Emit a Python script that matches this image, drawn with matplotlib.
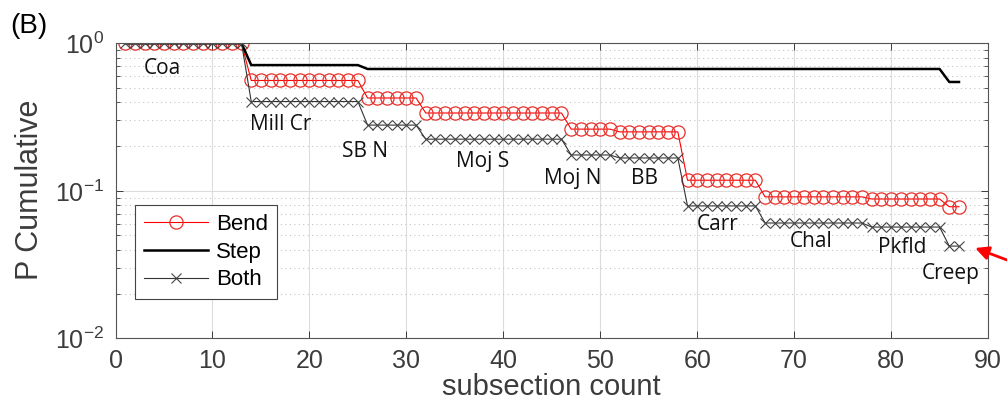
import matplotlib
matplotlib.use("Agg")
import matplotlib.pyplot as plt
from matplotlib.ticker import LogLocator, NullFormatter, MultipleLocator

plt.rcParams['font.family'] = ['Liberation Sans', 'DejaVu Sans']
plt.rcParams['mathtext.default'] = 'regular'

# subsection count (x) for each point
count = list(range(1, 88))

# cumulative probability per subsection
bend = [1.0, 1.0, 1.0, 1.0, 1.0, 1.0, 1.0, 1.0, 1.0, 1.0, 1.0, 1.0, 1.0,
        0.56, 0.56, 0.56, 0.56, 0.56, 0.56, 0.56, 0.56, 0.56, 0.56, 0.56, 0.56,
        0.426, 0.426, 0.426, 0.426, 0.426, 0.426,
        0.337, 0.337, 0.337, 0.337, 0.337, 0.337, 0.337, 0.337, 0.337, 0.337,
        0.337, 0.337, 0.337, 0.337, 0.337,
        0.262, 0.262, 0.262, 0.262, 0.262,
        0.251, 0.251, 0.251, 0.251, 0.251, 0.251, 0.251,
        0.118, 0.118, 0.118, 0.118, 0.118, 0.118, 0.118, 0.118,
        0.091, 0.091, 0.091, 0.091, 0.091, 0.091, 0.091, 0.091, 0.091, 0.091, 0.091,
        0.088, 0.088, 0.088, 0.088, 0.088, 0.088, 0.088, 0.088,
        0.078, 0.078]

step = [1.0, 1.0, 1.0, 1.0, 1.0, 1.0, 1.0, 1.0, 1.0, 1.0, 1.0, 1.0, 1.0,
        0.712, 0.712, 0.712, 0.712, 0.712, 0.712, 0.712, 0.712, 0.712, 0.712, 0.712, 0.712,
        0.67, 0.67, 0.67, 0.67, 0.67, 0.67, 0.67, 0.67, 0.67, 0.67,
        0.67, 0.67, 0.67, 0.67, 0.67, 0.67, 0.67, 0.67, 0.67, 0.67,
        0.67, 0.67, 0.67, 0.67, 0.67, 0.67, 0.67, 0.67, 0.67, 0.67,
        0.67, 0.67, 0.67, 0.67, 0.67, 0.67, 0.67, 0.67, 0.67, 0.67,
        0.67, 0.67, 0.67, 0.67, 0.67, 0.67, 0.67, 0.67, 0.67, 0.67,
        0.67, 0.67, 0.67, 0.67, 0.67, 0.67, 0.67, 0.67, 0.67, 0.67,
        0.547, 0.547]

both = [1.0, 1.0, 1.0, 1.0, 1.0, 1.0, 1.0, 1.0, 1.0, 1.0, 1.0, 1.0, 1.0,
        0.403, 0.403, 0.403, 0.403, 0.403, 0.403, 0.403, 0.403, 0.403, 0.403, 0.403, 0.403,
        0.279, 0.279, 0.279, 0.279, 0.279, 0.279,
        0.224, 0.224, 0.224, 0.224, 0.224, 0.224, 0.224, 0.224, 0.224, 0.224,
        0.224, 0.224, 0.224, 0.224, 0.224,
        0.175, 0.175, 0.175, 0.175, 0.175,
        0.167, 0.167, 0.167, 0.167, 0.167, 0.167, 0.167,
        0.079, 0.079, 0.079, 0.079, 0.079, 0.079, 0.079, 0.079,
        0.0605, 0.0605, 0.0605, 0.0605, 0.0605, 0.0605, 0.0605, 0.0605, 0.0605, 0.0605, 0.0605,
        0.0568, 0.0568, 0.0568, 0.0568, 0.0568, 0.0568, 0.0568, 0.0568,
        0.0422, 0.0422]

# fault section names written along the curves
names = ["Coa", "Mill Cr", "SB N", "Moj S", "Moj N", "BB", "Carr", "Chal", "Pkfld", "Creep"]
name_x = [4.8, 17.0, 25.7, 37.9, 47.2, 54.6, 62.1, 71.7, 81.1, 86.1]
name_y = [0.619, 0.258, 0.170, 0.145, 0.111, 0.111, 0.0542, 0.0416, 0.0379, 0.0252]

grey = '#3c3c3c'

fig = plt.figure(figsize=(10.07, 3.99), dpi=100)
ax = fig.add_axes([0.1147, 0.1521, 0.8665, 0.7393])

ax.plot(count, bend, color='red', lw=0.8, marker='o', ms=9.5, mfc='none',
        mec='#e8302a', mew=0.9, label='Bend')
ax.plot(count, step, color='black', lw=1.8, label='Step')
ax.plot(count, both, color='#333333', lw=0.8, marker='x', ms=7, mew=0.8,
        mec='#444444', label='Both')

ax.set_yscale('log')
ax.set_xlim(0, 90)
ax.set_ylim(1e-2, 1)
ax.xaxis.set_major_locator(MultipleLocator(10))
ax.yaxis.set_major_locator(LogLocator(base=10, numticks=10))
ax.yaxis.set_minor_locator(LogLocator(base=10, subs=range(2, 10), numticks=20))
ax.yaxis.set_minor_formatter(NullFormatter())

ax.grid(True, which='major', color='#dcdcdc', lw=0.8, ls='-')
ax.grid(True, which='minor', axis='y', color='#c4c4c4', lw=0.8, ls=(0, (1, 3)))
ax.set_axisbelow(True)

ax.tick_params(which='both', direction='in', top=True, right=True, colors=grey,
               labelsize=18, pad=8)
ax.tick_params(which='major', length=5, width=0.7)
ax.tick_params(which='minor', length=3, width=0.6)
for s in ax.spines.values():
    s.set_color('#555555')
    s.set_linewidth(0.8)

for n, x, y in zip(names, name_x, name_y):
    ax.text(x, y, n, ha='center', va='baseline', fontsize=15,
            family=['Open Sans', 'DejaVu Sans'], color='#111111')

leg = ax.legend(loc='lower left', bbox_to_anchor=(0.022, 0.132), borderaxespad=0,
                fontsize=16, handlelength=2.9, handletextpad=0.35,
                labelspacing=0.3, borderpad=0.4, fancybox=False, framealpha=1)
leg.get_frame().set_edgecolor('#444444')
leg.get_frame().set_linewidth(0.8)

ax.annotate('', xy=(88.4, 0.0416), xytext=(1.013, 0.336), textcoords='figure fraction',
            arrowprops=dict(arrowstyle='-|>', color='red', lw=2, mutation_scale=20),
            annotation_clip=False)

fig.text(30 / 1007, 1 - 190 / 399, 'P Cumulative', rotation=90, ha='center',
         va='center', fontsize=22, color=grey)
fig.text(551 / 1007, 1 - 395 / 399, 'subsection count', ha='center', va='baseline',
         fontsize=21, color=grey)
fig.text(10 / 1007, 1 - 33 / 399, '(B)', ha='left', va='baseline', fontsize=20, color='black')

fig.savefig('out.png', dpi=100)
